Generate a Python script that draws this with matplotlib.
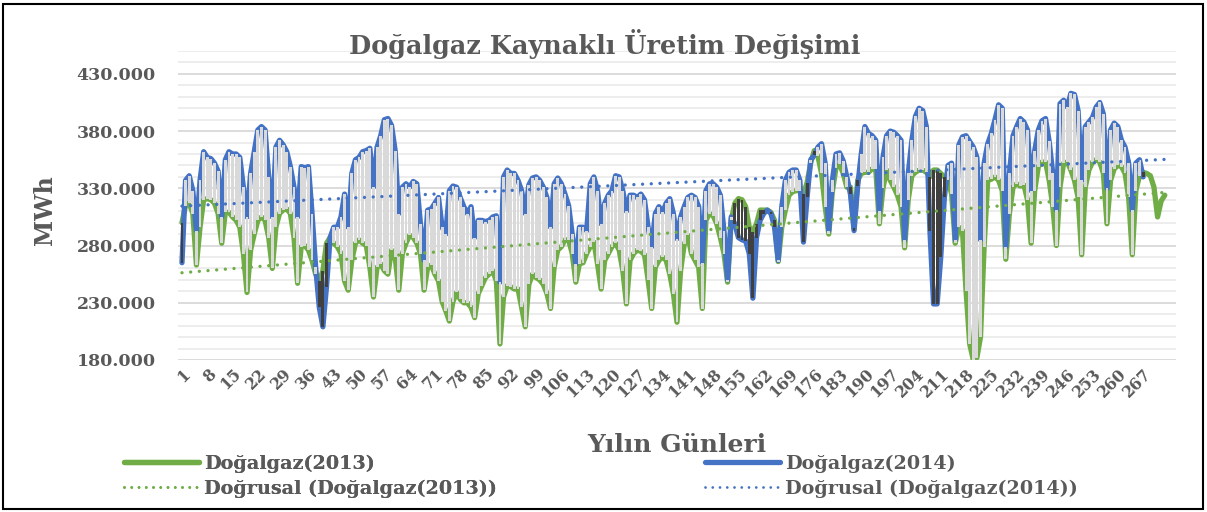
import numpy as np
import matplotlib
matplotlib.use('Agg')
import matplotlib.pyplot as plt
from matplotlib.lines import Line2D
from matplotlib.patches import Rectangle
from matplotlib.ticker import FuncFormatter

# günlük üretim, bin MWh
gas_2013 = [300, 315, 317, 308, 263, 296, 320, 321, 320, 317, 308, 282, 309, 309, 305, 302, 296, 273, 239, 276,
            290, 302, 305, 302, 287, 260, 296, 308, 311, 312, 308, 287, 247, 279, 280, 276, 267, 255, 249, 258,
            282, 287, 282, 279, 273, 249, 241, 267, 282, 285, 282, 280, 261, 235, 261, 264, 258, 255, 276, 270,
            241, 273, 282, 289, 287, 282, 273, 241, 261, 263, 255, 249, 231, 223, 214, 231, 239, 233, 230, 230,
            226, 217, 238, 245, 252, 255, 258, 249, 194, 235, 245, 244, 242, 242, 226, 209, 246, 255, 252, 250,
            246, 238, 225, 261, 276, 279, 285, 285, 273, 248, 264, 265, 273, 279, 283, 264, 242, 267, 273, 279,
            282, 276, 258, 229, 267, 273, 276, 275, 272, 250, 225, 261, 267, 270, 267, 255, 238, 213, 258, 281,
            289, 273, 267, 261, 225, 302, 308, 306, 299, 287, 273, 248, 302, 317, 321, 320, 314, 296, 292, 299,
            311, 311, 311, 309, 302, 266, 296, 311, 324, 327, 328, 328, 325, 335, 352, 363, 358, 343, 314, 290,
            327, 348, 351, 343, 331, 331, 295, 337, 343, 344, 344, 347, 347, 299, 330, 346, 337, 331, 324, 314,
            278, 320, 341, 344, 346, 346, 344, 340, 346, 346, 343, 340, 337, 325, 282, 296, 293, 240, 194, 180,
            182, 200, 279, 337, 338, 340, 337, 328, 268, 308, 331, 334, 332, 333, 320, 282, 328, 349, 353, 353,
            337, 314, 280, 331, 352, 353, 346, 337, 322, 272, 331, 346, 353, 355, 353, 343, 299, 337, 347, 350,
            349, 343, 322, 272, 328, 341, 344, 343, 341, 331, 305, 319, 324]

gas_2014 = [265, 337, 341, 328, 293, 337, 362, 357, 356, 352, 345, 305, 355, 362, 360, 360, 357, 331, 305, 343,
            362, 381, 384, 381, 340, 305, 366, 372, 368, 362, 349, 331, 305, 349, 348, 349, 308, 261, 226, 209,
            244, 287, 296, 296, 305, 325, 296, 343, 355, 357, 362, 363, 365, 331, 366, 376, 390, 391, 385, 363,
            308, 331, 334, 331, 336, 334, 299, 267, 311, 312, 317, 322, 296, 290, 328, 332, 331, 322, 314, 308,
            314, 287, 302, 302, 301, 302, 305, 306, 248, 340, 346, 343, 343, 337, 328, 308, 333, 339, 340, 337,
            331, 322, 296, 334, 339, 334, 325, 315, 290, 264, 296, 296, 293, 334, 340, 328, 299, 317, 324, 328,
            341, 340, 328, 310, 324, 324, 322, 325, 320, 296, 279, 308, 314, 309, 317, 321, 308, 286, 305, 314,
            322, 324, 322, 314, 265, 328, 334, 334, 331, 324, 293, 250, 305, 299, 287, 285, 284, 273, 234, 287,
            302, 308, 311, 308, 296, 267, 314, 337, 344, 346, 346, 337, 283, 322, 355, 359, 366, 369, 352, 293,
            337, 360, 361, 354, 340, 325, 293, 332, 360, 384, 378, 376, 372, 310, 357, 376, 380, 379, 376, 372,
            285, 343, 372, 393, 400, 398, 384, 293, 229, 229, 270, 322, 350, 352, 285, 368, 375, 376, 371, 366,
            357, 285, 352, 369, 378, 390, 403, 400, 279, 343, 376, 384, 391, 388, 381, 328, 363, 381, 389, 391,
            371, 343, 311, 404, 407, 401, 413, 412, 398, 337, 384, 388, 392, 401, 405, 395, 330, 381, 387, 384,
            372, 366, 352, 311, 352, 355, 340]

tick_days = list(range(1, 268, 7))

GREEN = '#70ad47'
BLUE = '#4472c4'
TEXT = '#595959'

plt.rcParams['font.family'] = 'DejaVu Serif'
plt.rcParams['font.weight'] = 'bold'

days13 = np.arange(1, len(gas_2013) + 1)
days14 = np.arange(1, len(gas_2014) + 1)

W, H = 1207, 512
fig = plt.figure(figsize=(W / 100, H / 100), dpi=100)
ax = fig.add_axes([178 / W, 1 - 360 / H, (1176 - 178) / W, (360 - 51) / H])

ax.set_xlim(-0.1, 276.1)
ax.set_ylim(180, 450)
ax.set_yticks(range(180, 431, 50))
ax.set_yticks(range(180, 451, 10), minor=True)
ax.grid(which='minor', axis='y', color='#ececec', lw=1.3, zorder=0)
ax.grid(which='major', axis='y', color='#d9d9d9', lw=1.3, zorder=0)
ax.set_axisbelow(True)
for s in ax.spines.values():
    s.set_visible(False)
ax.tick_params(length=0, which='both', colors=TEXT)
ax.yaxis.set_major_formatter(FuncFormatter(lambda v, p: f"{v * 1000:,.0f}".replace(",", ".")))
ax.set_xticks(tick_days)
ax.set_xticklabels([str(d) for d in tick_days], rotation=45, ha='right', rotation_mode='anchor',
                   fontsize=11.3, fontweight='bold', color=TEXT)
for lb in ax.get_yticklabels():
    lb.set_fontsize(12.5)
    lb.set_fontweight('bold')
ax.tick_params(axis='x', pad=4)
ax.tick_params(axis='y', pad=16)

# seriler
ax.plot(days13, gas_2013, color=GREEN, lw=3.8, solid_joinstyle='round', solid_capstyle='round', zorder=2)
ax.plot(days14, gas_2014, color=BLUE, lw=3.8, solid_joinstyle='round', solid_capstyle='round', zorder=2)

# yukarı / aşağı çubuklar
g = np.array(gas_2013[:len(gas_2014)], dtype=float)
b = np.array(gas_2014, dtype=float)
up = b >= g
ax.bar(days14[up], (b - g)[up], bottom=g[up], width=0.8, color='#d9d9d9', zorder=3, antialiased=False)
ax.bar(days14[~up], (g - b)[~up], bottom=b[~up], width=0.8, color='#404040', zorder=3, antialiased=False)

# doğrusal eğilim
xt = np.arange(1, len(gas_2013) + 1)
c13 = np.polyfit(days13, gas_2013, 1)
c14 = np.polyfit(days14, gas_2014, 1)
dots = (0, (0.01, 2.6))
ax.plot(xt, np.polyval(c13, xt), color=GREEN, lw=2.4, ls=dots, dash_capstyle='round', zorder=4)
ax.plot(xt, np.polyval(c14, xt), color=BLUE, lw=2.4, ls=dots, dash_capstyle='round', zorder=4)

fig.text(605 / W, 1 - 44 / H, 'Doğalgaz Kaynaklı Üretim Değişimi', ha='center', va='center',
         fontsize=18.4, fontweight='bold', color=TEXT)
fig.text(677 / W, 1 - 445 / H, 'Yılın Günleri', ha='center', va='center',
         fontsize=18, fontweight='bold', color=TEXT)
fig.text(45 / W, 1 - 210 / H, 'MWh', ha='center', va='center', rotation=90,
         fontsize=17, fontweight='bold', color=TEXT)

def make_legend(x0, color, year):
    handles = [Line2D([], [], color=color, lw=3.8, solid_capstyle='round'),
               Line2D([], [], color=color, lw=2.0, ls=dots, dash_capstyle='round')]
    labels = [f'Doğalgaz({year})', f'Doğrusal (Doğalgaz({year}))']
    leg = fig.legend(handles, labels, loc='center left', bbox_to_anchor=(x0 / W, 1 - 476 / H),
                     frameon=False, handlelength=3.9, handletextpad=0.3, labelspacing=0.35,
                     borderpad=0, borderaxespad=0, labelcolor=TEXT,
                     prop={'family': 'DejaVu Serif', 'weight': 'bold', 'size': 13.8})
    return leg

fig.add_artist(make_legend(124, GREEN, 2013))
make_legend(705, BLUE, 2014)

fig.add_artist(Rectangle((3 / W, 3 / H), (W - 7) / W, (H - 7) / H, transform=fig.transFigure,
                         fill=False, ec='black', lw=1.5))

fig.savefig('out.png', dpi=100)
